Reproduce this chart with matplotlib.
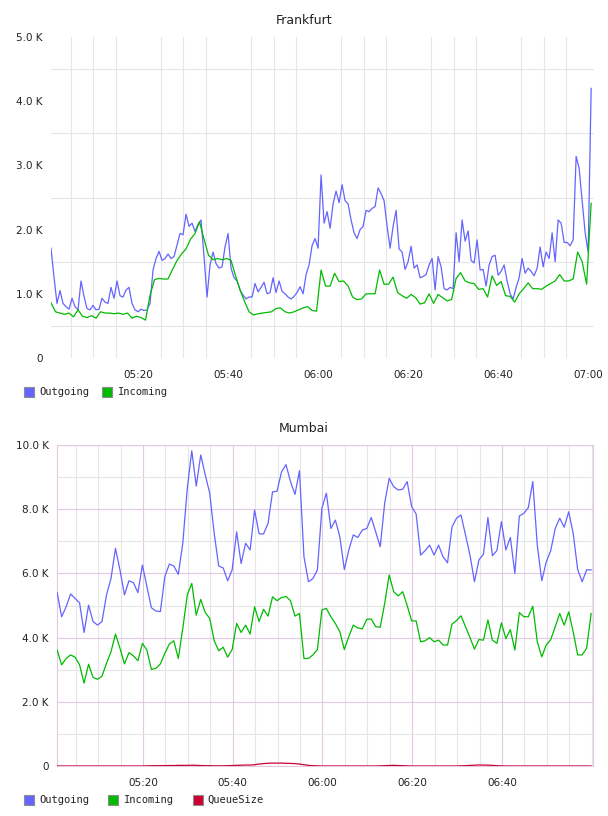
import matplotlib
matplotlib.use("Agg")
import matplotlib.pyplot as plt
import matplotlib.dates as mdates
import matplotlib.patches as mpatches
from matplotlib.ticker import FixedLocator, FuncFormatter
import pandas as pd

# Colours
BLUE = "#6464ff"
GREEN = "#00bb00"
RED = "#cc0033"
GRID = "#e6e6e6"
PINK = "#e2c8e2"
TEXT = "#222222"

W, H = 608, 816

# ---- Frankfurt (values in K) ----
FRA_OUT_START = "2020-01-01 05:00:34"
FRA_OUT_STEP = "40s"
fra_outgoing = [
    1.71, 1.26, 0.85, 1.05, 0.85, 0.80, 0.76, 0.93, 0.80, 0.75,
    1.20, 0.96, 0.77, 0.75, 0.82, 0.75, 0.76, 0.93, 0.87, 0.85,
    1.10, 0.93, 1.20, 0.97, 0.95, 1.06, 1.10, 0.85, 0.75, 0.72,
    0.76, 0.74, 0.75, 0.85, 1.37, 1.55, 1.66, 1.52, 1.55, 1.62,
    1.55, 1.58, 1.76, 1.94, 1.92, 2.24, 2.05, 2.10, 1.97, 2.08,
    2.15, 1.58, 0.95, 1.45, 1.65, 1.47, 1.40, 1.42, 1.73, 1.94,
    1.40, 1.25, 1.20, 1.06, 0.98, 0.92, 0.95, 0.95, 1.16, 1.03,
    1.10, 1.18, 1.00, 1.02, 1.25, 1.02, 1.20, 1.04, 1.00, 0.95,
    0.92, 0.96, 1.02, 1.11, 1.00, 1.30, 1.45, 1.75, 1.86, 1.71,
    2.85, 2.10, 2.28, 2.02, 2.40, 2.60, 2.42, 2.70, 2.45, 2.40,
    2.15, 1.95, 1.86, 2.00, 2.05, 2.30, 2.28, 2.33, 2.36, 2.65,
    2.56, 2.45, 2.05, 1.71, 2.05, 2.30, 1.70, 1.65, 1.38, 1.50,
    1.74, 1.40, 1.45, 1.25, 1.27, 1.30, 1.45, 1.55, 1.06, 1.58,
    1.42, 1.08, 1.06, 1.10, 1.08, 1.95, 1.50, 2.15, 1.82, 1.98,
    1.52, 1.48, 1.84, 1.37, 1.38, 1.12, 1.45, 1.58, 1.60, 1.29,
    1.35, 1.45, 1.20, 1.00, 0.92, 1.10, 1.25, 1.55, 1.32, 1.40,
    1.35, 1.28, 1.40, 1.73, 1.42, 1.65, 1.55, 1.95, 1.50, 2.15,
    2.10, 1.80, 1.80, 1.75, 1.84, 3.14, 2.95, 2.45, 1.95, 1.65,
    4.20,
]

FRA_IN_START = "2020-01-01 05:00:34"
FRA_IN_STEP = "60s"
fra_incoming = [
    0.86, 0.72, 0.70, 0.68, 0.70, 0.64, 0.75, 0.65, 0.63, 0.66,
    0.62, 0.72, 0.70, 0.70, 0.69, 0.70, 0.68, 0.70, 0.62, 0.65,
    0.63, 0.59, 0.98, 1.22, 1.24, 1.23, 1.23, 1.38, 1.52, 1.62,
    1.70, 1.85, 1.94, 2.12, 1.85, 1.60, 1.53, 1.55, 1.53, 1.55,
    1.52, 1.28, 1.06, 0.88, 0.72, 0.67, 0.69, 0.70, 0.71, 0.72,
    0.77, 0.78, 0.72, 0.70, 0.72, 0.75, 0.78, 0.80, 0.74, 0.73,
    1.37, 1.12, 1.12, 1.32, 1.19, 1.20, 1.12, 0.95, 0.91, 0.92,
    1.00, 1.00, 1.00, 1.37, 1.15, 1.15, 1.26, 1.02, 0.97, 0.93,
    0.99, 0.94, 0.84, 0.86, 1.00, 0.85, 0.99, 0.94, 0.89, 0.91,
    1.24, 1.33, 1.20, 1.17, 1.16, 1.07, 1.08, 0.95, 1.28, 1.13,
    1.19, 0.97, 0.96, 0.87, 1.00, 1.08, 1.17, 1.08, 1.08, 1.07,
    1.12, 1.16, 1.20, 1.30, 1.20, 1.20, 1.23, 1.65, 1.50, 1.15,
    2.41,
]

# ---- Mumbai (values in K) ----
MUM_START = "2020-01-01 05:00:52"
MUM_STEP = "60s"
mum_outgoing = [
    5.40, 4.65, 4.96, 5.36, 5.22, 5.08, 4.16, 5.01, 4.50, 4.39,
    4.50, 5.33, 5.84, 6.78, 6.11, 5.33, 5.77, 5.71, 5.40, 6.26,
    5.59, 4.93, 4.83, 4.81, 5.90, 6.29, 6.23, 5.97, 6.94, 8.65,
    9.82, 8.72, 9.69, 9.07, 8.50, 7.25, 6.23, 6.17, 5.77, 6.11,
    7.29, 6.31, 6.94, 6.73, 7.97, 7.23, 7.23, 7.56, 8.54, 8.56,
    9.16, 9.39, 8.86, 8.46, 9.20, 6.52, 5.74, 5.84, 6.11, 8.03,
    8.50, 7.40, 7.66, 7.14, 6.12, 6.73, 7.20, 7.12, 7.35, 7.40,
    7.74, 7.29, 6.83, 8.20, 8.96, 8.70, 8.60, 8.62, 8.86, 8.08,
    7.85, 6.57, 6.71, 6.88, 6.57, 6.88, 6.52, 6.33, 7.45, 7.72,
    7.82, 7.20, 6.57, 5.74, 6.42, 6.60, 7.74, 6.55, 6.71, 7.61,
    6.73, 7.12, 6.00, 7.79, 7.87, 8.05, 8.86, 6.88, 5.77, 6.36,
    6.71, 7.40, 7.72, 7.44, 7.92, 7.25, 6.12, 5.74, 6.11, 6.11,
]
mum_incoming = [
    3.61, 3.15, 3.35, 3.46, 3.39, 3.15, 2.58, 3.17, 2.76, 2.70,
    2.80, 3.20, 3.56, 4.11, 3.67, 3.18, 3.53, 3.43, 3.28, 3.82,
    3.61, 3.01, 3.04, 3.18, 3.51, 3.80, 3.90, 3.35, 4.29, 5.33,
    5.69, 4.70, 5.19, 4.78, 4.60, 3.90, 3.59, 3.70, 3.39, 3.63,
    4.44, 4.16, 4.39, 4.11, 4.96, 4.50, 4.88, 4.67, 5.27, 5.15,
    5.25, 5.28, 5.15, 4.67, 4.75, 3.35, 3.35, 3.46, 3.63, 4.86,
    4.91, 4.65, 4.44, 4.18, 3.63, 4.03, 4.39, 4.30, 4.27, 4.57,
    4.58, 4.34, 4.32, 5.07, 5.95, 5.43, 5.30, 5.43, 5.00, 4.52,
    4.52, 3.87, 3.90, 4.00, 3.87, 3.92, 3.77, 3.77, 4.42, 4.53,
    4.68, 4.34, 4.00, 3.64, 3.94, 3.92, 4.55, 3.92, 3.82, 4.46,
    3.97, 4.25, 3.61, 4.78, 4.65, 4.65, 4.98, 3.87, 3.40, 3.77,
    3.94, 4.34, 4.75, 4.39, 4.80, 4.18, 3.46, 3.46, 3.67, 4.75,
]
mum_queue = [
    0, 0, 0, 0, 0, 0, 0, 0, 0, 0,
    0, 0, 0, 0, 0, 0, 0, 0, 0, 0,
    0.005, 0.008, 0.01, 0.01, 0.012, 0.015, 0.015, 0.02, 0.02, 0.02,
    0.025, 0.02, 0.015, 0.01, 0.01, 0.005, 0.005, 0.005, 0.01, 0.015,
    0.02, 0.025, 0.03, 0.03, 0.04, 0.06, 0.075, 0.085, 0.09, 0.09,
    0.09, 0.085, 0.08, 0.075, 0.06, 0.04, 0.02, 0.01, 0.005, 0,
    0, 0, 0, 0, 0, 0, 0, 0, 0, 0,
    0, 0, 0.005, 0.01, 0.015, 0.02, 0.015, 0.01, 0.005, 0,
    0, 0, 0, 0, 0, 0, 0, 0, 0, 0,
    0.005, 0.01, 0.02, 0.025, 0.03, 0.03, 0.025, 0.02, 0.01, 0.005,
    0, 0, 0, 0, 0, 0, 0, 0, 0, 0,
    0, 0, 0, 0, 0, 0, 0, 0, 0, 0,
]

FRA_XLIM = ("2020-01-01 05:00:34", "2020-01-01 07:01:12")
MUM_XLIM = ("2020-01-01 05:00:50", "2020-01-01 07:00:17")
# Mumbai only labels up to 06:40 (07:00 sits on the right border)
MUM_LABELS = ["2020-01-01 05:20", "2020-01-01 05:40", "2020-01-01 06:00",
              "2020-01-01 06:20", "2020-01-01 06:40"]


def px(x, y):
    """pixel position -> figure fraction"""
    return x / W, 1 - y / H


def kfmt(v, _pos):
    return "0" if v == 0 else f"{v:.1f} K"


def style_time_axis(ax, xlim):
    ax.set_xlim(pd.Timestamp(xlim[0]), pd.Timestamp(xlim[1]))
    ax.xaxis.set_major_locator(mdates.MinuteLocator(byminute=[0, 20, 40]))
    ax.xaxis.set_minor_locator(mdates.MinuteLocator(byminute=range(0, 60, 5)))
    ax.xaxis.set_major_formatter(mdates.DateFormatter("%H:%M"))
    ax.yaxis.set_major_formatter(FuncFormatter(kfmt))
    ax.tick_params(which="both", length=0, labelsize=7.5, colors=TEXT)
    ax.tick_params(axis="x", pad=9)
    ax.tick_params(axis="y", pad=6)
    ax.set_axisbelow(True)


def legend(items, y):
    fig = plt.gcf()
    for (label, color, xs, xt) in items:
        x0, y0 = px(xs, y + 5)
        fig.patches.append(mpatches.Rectangle(
            (x0, y0), 10 / W, 10 / H, transform=fig.transFigure,
            facecolor=color, edgecolor="#8c8c8c", linewidth=0.8))
        tx, ty = px(xt, y)
        fig.text(tx, ty, label, fontsize=7.5, family="DejaVu Sans Mono",
                 color=TEXT, va="center", ha="left")


fig = plt.figure(figsize=(W / 100, H / 100), dpi=100)
fig.patch.set_facecolor("white")

# ---- Frankfurt panel ----
l, b = px(51, 358)
ax1 = fig.add_axes([l, b, 543 / W, 321 / H])
t_out = pd.date_range(FRA_OUT_START, periods=len(fra_outgoing), freq=FRA_OUT_STEP)
t_in = pd.date_range(FRA_IN_START, periods=len(fra_incoming), freq=FRA_IN_STEP)
ax1.plot(t_out, fra_outgoing, color=BLUE, lw=0.9, zorder=3)
ax1.plot(t_in, fra_incoming, color=GREEN, lw=0.9, zorder=3)
style_time_axis(ax1, FRA_XLIM)
ax1.set_ylim(0, 5)
ax1.set_yticks([0, 1, 2, 3, 4, 5])
ax1.yaxis.set_minor_locator(FixedLocator([0.5, 1.5, 2.5, 3.5, 4.5]))
ax1.grid(False)
ax1.grid(which="minor", color=GRID, lw=0.8)
for s in ax1.spines.values():
    s.set_visible(False)

fig.text(0.5, 1 - 20 / H, "Frankfurt", ha="center", va="center",
         fontsize=9, color=TEXT)
legend([("Outgoing", BLUE, 24, 39), ("Incoming", GREEN, 102, 118)], 392)

# ---- Mumbai panel ----
l, b = px(57, 766)
ax2 = fig.add_axes([l, b, 536 / W, 321 / H])
t_m = pd.date_range(MUM_START, periods=len(mum_outgoing), freq=MUM_STEP)
ax2.plot(t_m, mum_outgoing, color=BLUE, lw=0.9, zorder=3)
ax2.plot(t_m, mum_incoming, color=GREEN, lw=0.9, zorder=3)
ax2.plot(t_m, mum_queue, color=RED, lw=0.9, zorder=4)
style_time_axis(ax2, MUM_XLIM)
ax2.xaxis.set_major_locator(FixedLocator(mdates.date2num(pd.to_datetime(MUM_LABELS))))
ax2.set_ylim(0, 10)
ax2.set_yticks([0, 2, 4, 6, 8, 10])
ax2.yaxis.set_minor_locator(FixedLocator([1, 3, 5, 7, 9]))
ax2.grid(which="minor", color=GRID, lw=0.8)
ax2.grid(which="major", color=PINK, lw=0.8)
for s in ax2.spines.values():
    s.set_color(PINK)
    s.set_linewidth(0.8)

fig.text(0.5, 1 - 428 / H, "Mumbai", ha="center", va="center",
         fontsize=9, color=TEXT)
legend([("Outgoing", BLUE, 24, 39), ("Incoming", GREEN, 108, 124),
        ("QueueSize", RED, 193, 207)], 800)

fig.savefig("out.png", dpi=100, facecolor="white")
